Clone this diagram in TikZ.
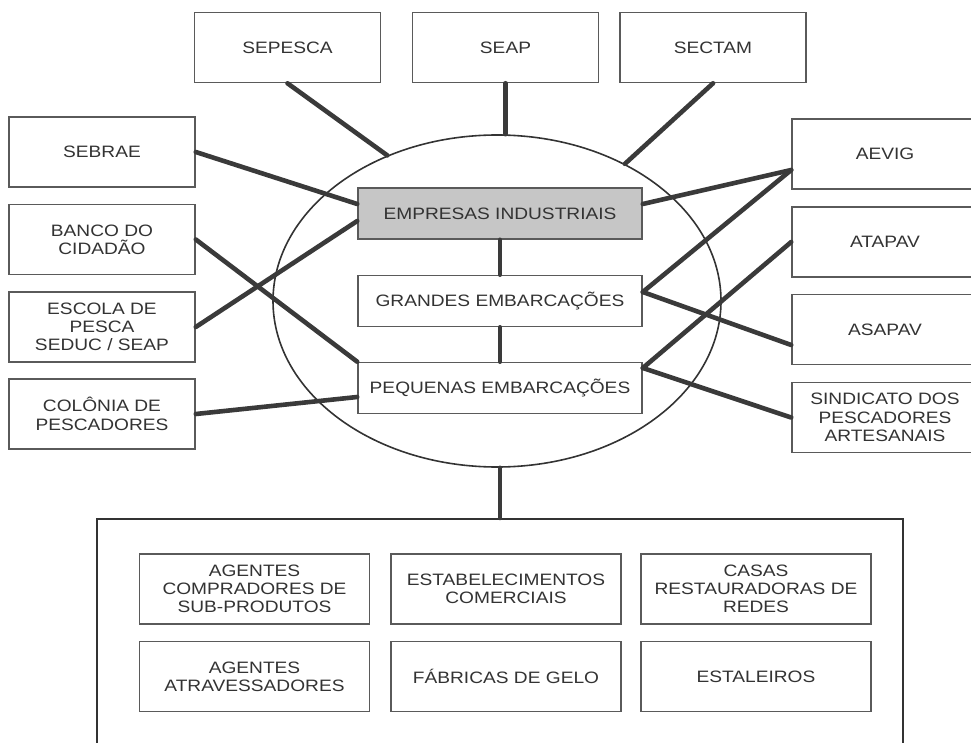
\documentclass[tikz,border=0pt]{standalone}
\usepackage{fontspec}
\setmainfont{Liberation Sans}[FakeStretch=1.16]
\usepackage{xcolor}
\usetikzlibrary{
    shapes.geometric,
    positioning
}
\definecolor{borda}{HTML}{5A5A5A}
\definecolor{texto}{HTML}{333333}
\definecolor{linha}{HTML}{3A3A3A}
\definecolor{cinza}{HTML}{C6C6C6}

\begin{document}
\begin{tikzpicture}[x=1pt, y=-1pt,
                        caixa/.style={draw=borda, line width=1.6pt, fill=white, text=texto,
                            align=center, inner sep=0pt, minimum width=186pt, minimum height=70pt,
                            font=\fontsize{16.5}{18.3}\selectfont},
                        centro/.style={caixa, minimum width=284pt, minimum height=51pt},
                        interno/.style={caixa, minimum width=230pt, minimum height=70pt},
                        liga/.style={draw=linha, line width=4.6pt, line cap=round}]
                        \useasboundingbox (0, 0) rectangle (971, 743);
                        \node[draw=texto, line width=1.6pt, ellipse, inner sep=0pt,
                            minimum width=448pt, minimum height=332pt] (ell) at (497, 301) {};
                        % top
                        \node[caixa] (sepesca) at (287.5, 47.5) {SEPESCA};
                        \node[caixa] (seap) at (505.5, 47.5) {SEAP};
                        \node[caixa] (sectam) at (713, 47.5) {SECTAM};
                        % left
                        \node[caixa] (sebrae) at (102, 152) {SEBRAE};
                        \node[caixa] (banco) at (102, 239.5) {BANCO DO\\CIDADÃO};
                        \node[caixa] (escola) at (102, 327) {ESCOLA DE\\PESCA\\SEDUC / SEAP};
                        \node[caixa] (colonia) at (102, 414) {COLÔNIA DE\\PESCADORES};
                        % right
                        \node[caixa] (aevig) at (885, 154) {AEVIG};
                        \node[caixa] (atapav) at (885, 242) {ATAPAV};
                        \node[caixa] (asapav) at (885, 329.5) {ASAPAV};
                        \node[caixa] (sind) at (885, 417.5) {SINDICATO DOS\\PESCADORES\\ARTESANAIS};
                        % center
                        \node[centro, fill=cinza] (emp) at (500, 213.5) {EMPRESAS INDUSTRIAIS};
                        \node[centro] (gra) at (500, 301) {GRANDES EMBARCAÇÕES};
                        \node[centro] (peq) at (500, 388) {PEQUENAS EMBARCAÇÕES};
                        % bottom
                        \node[draw=texto, line width=2pt, minimum width=806pt, minimum height=261pt,
                            inner sep=0pt] (grupo) at (500, 649.5) {};
                        \node[interno] (agc) at (254.5, 589) {AGENTES\\COMPRADORES DE\\SUB-PRODUTOS};
                        \node[interno] (est) at (506, 589) {ESTABELECIMENTOS\\COMERCIAIS};
                        \node[interno] (casas) at (756, 589) {CASAS\\RESTAURADORAS DE\\REDES};
                        \node[interno] (aga) at (254.5, 676.5) {AGENTES\\ATRAVESSADORES};
                        \node[interno] (fab) at (506, 676.5) {FÁBRICAS DE GELO};
                        \node[interno] (esta) at (756, 676.5) {ESTALEIROS};
                        \draw[liga]
                        (sepesca.south) edge (ell.127.9)
                        (seap.south) edge (seap.south |- ell.north)
                        (sectam.south) edge (ell.47.4)
                        (sebrae.east) edge ([yshift=9.5pt]emp.west)
                        (escola.east) edge ([yshift=-7.5pt]emp.west)
                        (banco.east) edge (peq.north west)
                        (colonia.east) edge ([yshift=-9pt]peq.west)
                        ([yshift=9.5pt]emp.east) edge ([yshift=-16pt]aevig.west)
                        ([yshift=9pt]gra.east) edge ([yshift=-16pt]aevig.west)
                        ([yshift=9pt]gra.east) edge ([yshift=-15.5pt]asapav.west)
                        ([yshift=20pt]peq.east) edge (atapav.west)
                        ([yshift=20pt]peq.east) edge (sind.west)
                        (emp.south) edge (gra.north)
                        (gra.south) edge (peq.north)
                        (ell.south -| grupo.north) edge (grupo.north);
                    \end{tikzpicture}
\end{document}
